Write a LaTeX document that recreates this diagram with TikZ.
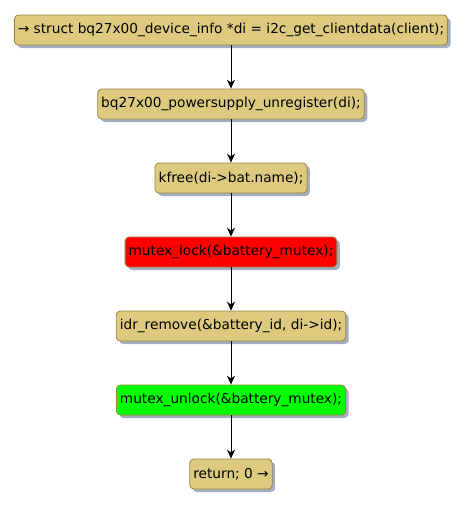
\documentclass[tikz,border=0pt]{standalone}
\usepackage{fontspec}
\setmainfont{DejaVu Sans}
\usetikzlibrary{arrows.meta,shadows}
\definecolor{actfill}{HTML}{DDCA7E}
\definecolor{actdraw}{HTML}{9A8440}
\definecolor{shadowc}{HTML}{A3AEC0}
\tikzset{
  act/.style={draw=actdraw, line width=0.8pt, fill=actfill, rounded corners=4pt,
    minimum height=30pt, inner xsep=3.5pt, font=\fontsize{13.7}{16}\selectfont,
    drop shadow={shadow xshift=3pt, shadow yshift=-3pt, fill=shadowc, opacity=1}},
  flow/.style={-{Stealth[length=9pt,width=8pt,inset=3pt]}, line width=0.8pt}
}
\begin{document}
\begin{tikzpicture}[x=1pt,y=-1pt]
\useasboundingbox (0,0) rectangle (466,507);
\node[act] (n1) at (231,30) {→ struct bq27x00\_device\_info *di = i2c\_get\_clientdata(client);};
\node[act] (n2) at (231,104) {bq27x00\_powersupply\_unregister(di);};
\node[act] (n3) at (231,178) {kfree(di->bat.name);};
\node[act, fill=red] (n4) at (231,252) {mutex\_lock(\&battery\_mutex);};
\node[act] (n5) at (231,326) {idr\_remove(\&battery\_id, di->id);};
\node[act, fill=green] (n6) at (231,400) {mutex\_unlock(\&battery\_mutex);};
\node[act] (n7) at (231,474) {return; 0 →};
\foreach \a/\b in {n1/n2,n2/n3,n3/n4,n4/n5,n5/n6,n6/n7}
  \draw[flow] (\a) -- (\b);
\end{tikzpicture}
\end{document}
